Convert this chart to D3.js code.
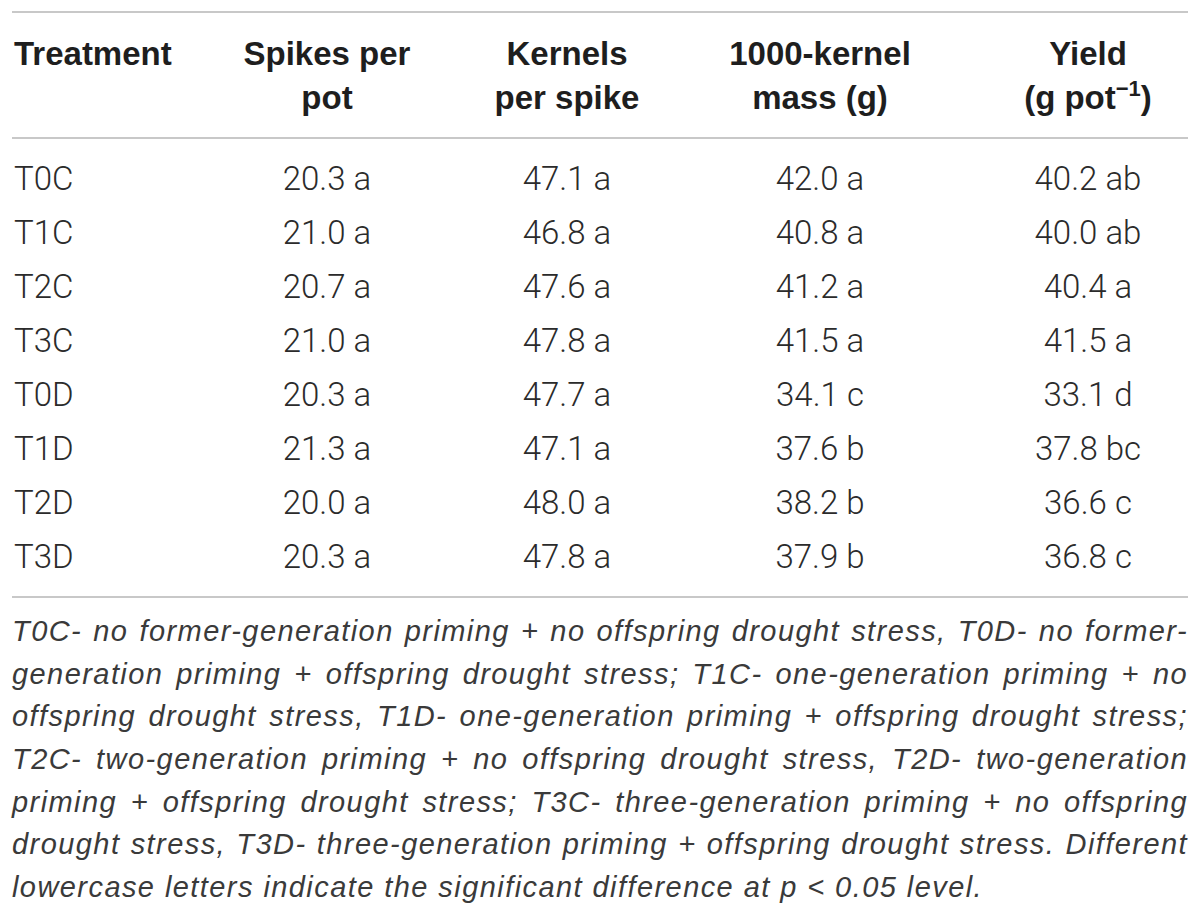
<!DOCTYPE html>
<html>
<head>
<meta charset="utf-8">
<script src="https://cdn.jsdelivr.net/npm/d3@7"></script>
<style>
  html, body { margin: 0; padding: 0; background: #fff; }
  svg { display: block; }
</style>
</head>
<body>
<script>
// ---- data ----
const treatments = ["T0C", "T1C", "T2C", "T3C", "T0D", "T1D", "T2D", "T3D"];
const spikesPerPot = [20.3, 21.0, 20.7, 21.0, 20.3, 21.3, 20.0, 20.3];
const spikesLetters = ["a", "a", "a", "a", "a", "a", "a", "a"];
const kernelsPerSpike = [47.1, 46.8, 47.6, 47.8, 47.7, 47.1, 48.0, 47.8];
const kernelsLetters = ["a", "a", "a", "a", "a", "a", "a", "a"];
const kernelMass = [42.0, 40.8, 41.2, 41.5, 34.1, 37.6, 38.2, 37.9];
const massLetters = ["a", "a", "a", "a", "c", "b", "b", "b"];
const yieldPerPot = [40.2, 40.0, 40.4, 41.5, 33.1, 37.8, 36.6, 36.8];
const yieldLetters = ["ab", "ab", "a", "a", "d", "bc", "c", "c"];

const columnKeys = ["treatment", "spikes", "kernels", "mass", "yield"];
const headerLines = [
  ["Treatment"],
  ["Spikes per", "pot"],
  ["Kernels", "per spike"],
  ["1000-kernel", "mass (g)"],
  ["Yield", "(g pot", "−1", ")"]
];
const footnoteLines = [
  "T0C- no former-generation priming + no offspring drought stress, T0D- no former-",
  "generation priming + offspring drought stress; T1C- one-generation priming + no",
  "offspring drought stress, T1D- one-generation priming + offspring drought stress;",
  "T2C- two-generation priming + no offspring drought stress, T2D- two-generation",
  "priming + offspring drought stress; T3C- three-generation priming + no offspring",
  "drought stress, T3D- three-generation priming + offspring drought stress. Different",
  "lowercase letters indicate the significant difference at p < 0.05 level."
];

// ---- layout ----
const W = 1200, H = 917;
const left = 12, right = 1188;
const svg = d3.select("body").append("svg").attr("width", W).attr("height", H);

const x = d3.scaleOrdinal().domain(columnKeys).range([14, 327, 567, 820, 1088]);
const y = d3.scalePoint().domain(treatments).range([190, 568]);

const ruleColor = "#c8c8c8";
const textColor = "#2b2b2b";
const dataFont = "Roboto, 'Liberation Sans', sans-serif";
const headFont = "'Liberation Sans', Arial, sans-serif";
const noteFont = "'Liberation Sans', Arial, sans-serif";

[12, 138, 597].forEach(yy => {
  svg.append("line").attr("x1", left).attr("x2", right)
    .attr("y1", yy).attr("y2", yy)
    .attr("stroke", ruleColor).attr("stroke-width", 2);
});

// header
const head = svg.append("g")
  .attr("font-family", headFont).attr("font-weight", 700)
  .attr("font-size", 33).attr("fill", "#1e1e1e");
headerLines.forEach((lines, i) => {
  const key = columnKeys[i];
  const anchor = i === 0 ? "start" : "middle";
  if (key === "yield") {
    head.append("text").attr("x", x(key)).attr("y", 65).attr("text-anchor", "middle").text(lines[0]);
    const t = head.append("text").attr("x", x(key)).attr("y", 109).attr("text-anchor", "middle");
    t.append("tspan").text(lines[1]);
    t.append("tspan").attr("font-size", 22).attr("dy", -13).text(lines[2]);
    t.append("tspan").attr("dy", 13).text(lines[3]);
  } else {
    lines.forEach((ln, j) => {
      head.append("text").attr("x", x(key)).attr("y", 65 + j * 44)
        .attr("text-anchor", anchor).text(ln);
    });
  }
});

// body
const rows = treatments.map((t, i) => ({
  treatment: t,
  spikes: spikesPerPot[i].toFixed(1) + " " + spikesLetters[i],
  kernels: kernelsPerSpike[i].toFixed(1) + " " + kernelsLetters[i],
  mass: kernelMass[i].toFixed(1) + " " + massLetters[i],
  yield: yieldPerPot[i].toFixed(1) + " " + yieldLetters[i]
}));

const body = svg.append("g")
  .attr("font-family", dataFont).attr("font-weight", 300)
  .attr("font-size", 33).attr("fill", textColor);

const rowG = body.selectAll("g.row").data(rows).join("g")
  .attr("class", "row")
  .attr("transform", d => `translate(0,${y(d.treatment)})`);
rowG.selectAll("text").data(d => columnKeys.map(k => ({ k, v: d[k] }))).join("text")
  .attr("x", d => x(d.k))
  .attr("text-anchor", d => d.k === "treatment" ? "start" : "middle")
  .text(d => d.v);

// footnote (justified)
const foot = svg.append("g")
  .attr("font-family", noteFont).attr("font-weight", 400).attr("font-style", "italic")
  .attr("font-size", 29).attr("fill", "#3a3a3a");
const fy = d3.scaleLinear().domain([0, footnoteLines.length - 1]).range([641, 897]);

function drawFoot() {
  foot.selectAll("*").remove();
  foot.style("letter-spacing", "0px");
  const lastLine = footnoteLines[footnoteLines.length - 1];
  const t0 = foot.append("text").text(lastLine);
  const w0 = t0.node().getComputedTextLength();
  t0.remove();
  const ls = Math.max(-1, Math.min(3, (971 - w0) / lastLine.length));
  foot.style("letter-spacing", ls + "px");

  const measure = s => {
    const t = foot.append("text").text(s);
    const wd = t.node().getComputedTextLength();
    t.remove();
    return wd;
  };
  const spaceW = measure("a a") - measure("aa");

  footnoteLines.forEach((line, i) => {
    const words = line.split(" ");
    const last = i === footnoteLines.length - 1;
    const widths = words.map(measure);
    const total = d3.sum(widths);
    const gap = last ? spaceW : (right - left - total) / (words.length - 1);
    let cx = left;
    words.forEach((w, j) => {
      foot.append("text").attr("x", cx).attr("y", fy(i)).text(w);
      cx += widths[j] + gap;
    });
  });
}
drawFoot();
if (document.fonts && document.fonts.ready) document.fonts.ready.then(drawFoot);
</script>
</body>
</html>
